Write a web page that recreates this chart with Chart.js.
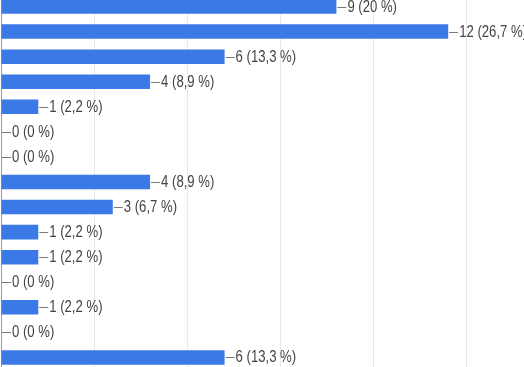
<!DOCTYPE html>
<html>
<head>
<meta charset="utf-8">
<script src="https://cdn.jsdelivr.net/npm/chart.js@4"></script>
<style>
  html, body { margin: 0; padding: 0; background: #fff; overflow: hidden; }
  body { width: 524px; height: 367px; position: relative; }
  #wrap { position: absolute; left: 0; top: -6px; width: 560px; height: 376px; }
</style>
</head>
<body>
<div id="wrap"><canvas id="chart"></canvas></div>
<script>
// answers (labels are cropped out of the picture)
const categories = ['1', '2', '3', '4', '5', '6', '7', '8', '9', '10', '11', '12', '13', '14', '15'];
const counts = [9, 12, 6, 4, 1, 0, 0, 4, 3, 1, 1, 0, 1, 0, 6];
const percents = [20, 26.7, 13.3, 8.9, 2.2, 0, 0, 8.9, 6.7, 2.2, 2.2, 0, 2.2, 0, 13.3];

function pctText(p) {
  return String(p).replace('.', ',') + ' %';
}

// draws "—9 (20 %)" after each bar
const barLabels = {
  id: 'barLabels',
  afterDatasetsDraw(chart) {
    const ctx = chart.ctx;
    const meta = chart.getDatasetMeta(0);
    ctx.save();
    meta.data.forEach((bar, i) => {
      const x = bar.x;
      const y = Math.round(bar.y) + 0.5;
      ctx.strokeStyle = '#7a7a7a';
      ctx.lineWidth = 1;
      ctx.beginPath();
      ctx.moveTo(x + 1, y);
      ctx.lineTo(x + 10, y);
      ctx.stroke();

      ctx.save();
      ctx.translate(x + 11, y + 0.5);
      ctx.scale(0.82, 1);
      ctx.fillStyle = '#444';
      ctx.font = '16px "Liberation Sans"';
      ctx.textBaseline = 'middle';
      ctx.fillText(counts[i] + ' (' + pctText(percents[i]) + ')', 0, 0);
      ctx.restore();
    });
    ctx.restore();
  }
};

new Chart(document.getElementById('chart'), {
  type: 'bar',
  data: {
    labels: categories,
    datasets: [{
      data: counts,
      backgroundColor: '#3b7ae6',
      barPercentage: 0.58,
      categoryPercentage: 1
    }]
  },
  options: {
    indexAxis: 'y',
    responsive: true,
    maintainAspectRatio: false,
    animation: false,
    layout: { padding: { left: 1, right: 0, top: 0, bottom: 0 } },
    plugins: {
      legend: { display: false },
      tooltip: { enabled: false }
    },
    scales: {
      x: {
        min: 0,
        max: 15,
        ticks: { display: false, stepSize: 2.5 },
        grid: { color: '#e9e9e9', drawTicks: false },
        border: { display: false }
      },
      y: {
        ticks: { display: false },
        grid: { display: false, drawTicks: false },
        border: { display: true, color: '#9a9a9a', width: 1 }
      }
    }
  },
  plugins: [barLabels]
});
</script>
</body>
</html>
